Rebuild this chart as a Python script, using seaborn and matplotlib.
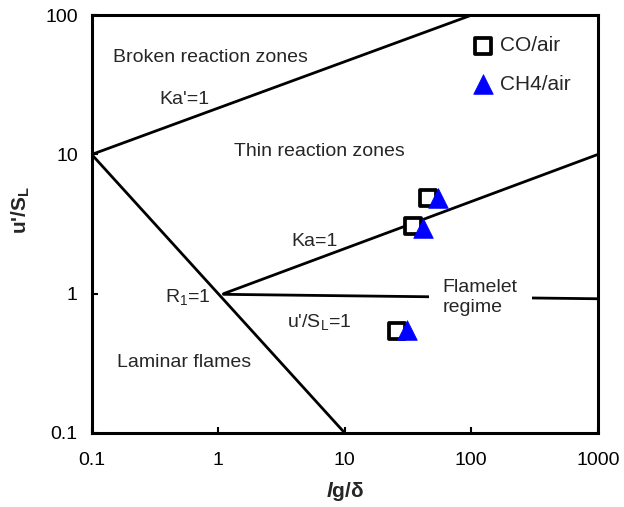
import matplotlib
matplotlib.use("Agg")
import matplotlib.pyplot as plt
import seaborn as sns

sns.set_theme(style="white")
plt.rcParams["font.family"] = ["Liberation Sans", "DejaVu Sans"]
plt.rcParams["mathtext.default"] = "regular"
plt.rcParams["mathtext.fontset"] = "custom"
plt.rcParams["mathtext.rm"] = "Liberation Sans"
plt.rcParams["mathtext.it"] = "Liberation Sans:style=italic:weight=bold"
plt.rcParams["mathtext.bf"] = "Liberation Sans:weight=bold"

# Measured operating points (integral length scale / flame thickness, u'/S_L)
co_x = [45.3, 34.4, 25.8]
co_y = [4.85, 3.06, 0.54]
ch4_x = [54.3, 41.4, 30.9]
ch4_y = [4.85, 2.96, 0.55]

# Regime boundaries on the Borghi diagram
ka_prime_x = [0.1, 100]
ka_prime_y = [10, 100]
r1_x = [0.1, 10]
r1_y = [10, 0.1]
ka_x = [1.1, 1000]
ka_y = [1.0, 10]
us_x = [1.1, 1000]
us_y = [0.99, 0.92]

x_ticks = [0.1, 1, 10, 100, 1000]
y_ticks = [0.1, 1, 10, 100]
x_tick_labels = ["0.1", "1", "10", "100", "1000"]
y_tick_labels = ["0.1", "1", "10", "100"]

fig = plt.figure(figsize=(6.24, 5.07), dpi=100)
ax = fig.add_axes([0.147, 0.146, 0.811, 0.824])
ax.set_xscale("log")
ax.set_yscale("log")
ax.set_xlim(0.1, 1000)
ax.set_ylim(0.1, 100)

lw = 2.0
for xs, ys in [(ka_prime_x, ka_prime_y), (r1_x, r1_y), (ka_x, ka_y), (us_x, us_y)]:
    sns.lineplot(x=xs, y=ys, ax=ax, color="black", linewidth=lw, sort=False,
                 estimator=None, legend=False)

sns.scatterplot(x=co_x, y=co_y, ax=ax, marker="s", s=125, facecolor="white",
                edgecolor="black", linewidth=2.7, zorder=5, label="CO/air")
sns.scatterplot(x=ch4_x, y=ch4_y, ax=ax, marker="^", s=200, color="#0000ff",
                edgecolor="#0000ff", linewidth=0.5, zorder=6, label="CH4/air")

fs = 14
ax.text(0.1465, 50, "Broken reaction zones", fontsize=fs, va="center", ha="left")
ax.text(0.345, 24.7, "Ka'=1", fontsize=fs, va="center", ha="left")
ax.text(1.34, 10.5, "Thin reaction zones", fontsize=fs, va="center", ha="left")
ax.text(3.81, 2.39, "Ka=1", fontsize=fs, va="center", ha="left")
ax.text(0.378, 0.95, "R$_{\\mathregular{1}}$=1", fontsize=fs, va="center", ha="left")
ax.text(3.48, 0.63, "u'/S$_{\\mathregular{L}}$=1", fontsize=fs, va="center", ha="left")
ax.text(0.158, 0.32, "Laminar flames", fontsize=fs, va="center", ha="left")
ax.text(59.6, 0.94, "Flamelet\nregime", fontsize=fs, va="center", ha="left",
        linespacing=1.3,
        bbox=dict(facecolor="white", edgecolor="none", pad=10), zorder=4)

ax.set_xticks(x_ticks)
ax.set_xticklabels(x_tick_labels)
ax.set_yticks(y_ticks)
ax.set_yticklabels(y_tick_labels)
ax.minorticks_off()
ax.tick_params(axis="both", which="major", direction="in", length=4, width=1.5,
               labelsize=14, colors="black", bottom=True, left=True)
ax.tick_params(axis="x", pad=14)
ax.tick_params(axis="y", pad=10)
for sp in ax.spines.values():
    sp.set_color("black")
    sp.set_linewidth(2.2)

ax.set_xlabel("$\\it{l}$g/δ", fontsize=15, fontweight="bold")
ax.set_ylabel("u'/S$_{\\mathregular{L}}$", fontsize=15, fontweight="bold")
ax.xaxis.set_label_coords(0.5, -0.113)
ax.yaxis.set_label_coords(-0.118, 0.533)

leg = ax.legend(loc="upper right", bbox_to_anchor=(0.975, 0.985), frameon=False,
                fontsize=15, handletextpad=0.3, labelspacing=0.95,
                borderaxespad=0.3, handlelength=1.0)

fig.savefig("out.png", dpi=100)
